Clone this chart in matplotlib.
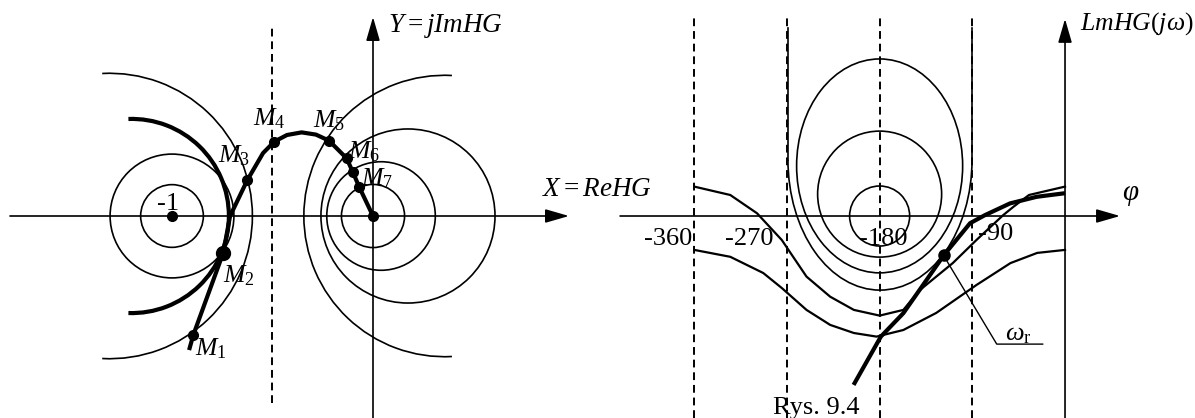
import numpy as np
import matplotlib.pyplot as plt
from matplotlib.patches import Arc, Circle, Ellipse

plt.rcParams['font.family'] = ['Liberation Serif', 'DejaVu Serif']
plt.rcParams['mathtext.fontset'] = 'custom'
plt.rcParams['mathtext.rm'] = 'Liberation Serif'
plt.rcParams['mathtext.it'] = 'Liberation Serif:italic'

# ---- Nyquist plane: frequency locus of HG(jw) ----
locus_re = [-0.915, -0.894, -0.745, -0.711, -0.625, -0.547, -0.491, -0.428,
            -0.355, -0.284, -0.219, -0.131, -0.101, -0.068, 0.0]
locus_im = [-0.667, -0.592, -0.183, 0.0, 0.179, 0.313, 0.370, 0.403,
            0.416, 0.405, 0.375, 0.287, 0.220, 0.143, 0.0]
marked = [1, 2, 4, 6, 10, 11, 12, 13, 14]   # points lying on M circles

m_names = ['$M_1$', '$M_2$', '$M_3$', '$M_4$', '$M_5$', '$M_6$', '$M_7$']
m_label_x = [-0.886, -0.746, -0.771, -0.597, -0.299, -0.124, -0.060]
m_label_y = [-0.692, -0.328, 0.269, 0.453, 0.443, 0.289, 0.154]

# M circles: (centre, radius)
circles_left = [(-1.0, 0.156), (-1.0, 0.308)]
circles_right = [(0.0, 0.157), (0.04, 0.27), (0.174, 0.433)]
arc_outer_left = (-1.31, 0.71)
arc_outer_right = (0.356, 0.70)
arc_mmax = (-1.2, 0.483)

# ---- Nichols chart ----
phase_lines = [-360, -270, -180, -90]
phase_labels = ['-360', '-270', '-180', '-90']

wave_hi_phase = [-360, -325, -299, -275, -251, -228, -205, -180, -157,
                 -141, -109, -86, -60, -50, -35, 0]
wave_hi_lm = [9.8, 7.0, 0.9, -8.0, -20.2, -26.9, -31.3, -33.2, -31.3,
              -24.7, -15.7, -8.0, 0.3, 3.1, 7.0, 9.8]
wave_lo_phase = [-360, -325, -293, -275, -251, -228, -205, -183,
                 -157, -125, -86, -53, -27, 0]
wave_lo_lm = [-11.3, -13.6, -19.0, -24.0, -31.3, -36.3, -39.0, -40.2,
              -38.0, -32.3, -23.0, -15.7, -12.3, -11.3]

ol_phase = [-205.3, -178.8, -157.0, -117.5, -92.2, -77.7, -53.4, -27.5, 0]
ol_lm = [-56.3, -40.2, -32.4, -13.0, -2.4, 0.3, 4.2, 6.4, 7.6]
resonance = (-117.5, -13.0)

# closed M contours: (centre phase, centre Lm, width, height)
contours = [(-180, 0.0, 58.3, 20.0), (-180, 7.3, 120.4, 42.0),
            (-180, 16.7, 161.2, 71.3)]
u_left, u_right, u_top, u_knee, u_bottom = -269.0, -90.3, 62.7, 18.7, -24.7

fig = plt.figure(figsize=(11.95, 4.18), dpi=100)
axl = fig.add_axes([0, 0, 600 / 1195, 1])
axr = fig.add_axes([600 / 1195, 0, 595 / 1195, 1])
for ax in (axl, axr):
    ax.set_axis_off()

axl.set_xlim(-373 / 201, 227 / 201)
axl.set_ylim(-202 / 201, 216 / 201)
axr.set_xlim(-451.5, 126.2)
axr.set_ylim(-67.33, 72.0)

thin = dict(color='black', lw=1.2)
arrow = dict(arrowstyle='-|>,head_length=1.45,head_width=0.42',
             mutation_scale=10, color='black', lw=1.2, shrinkA=0, shrinkB=0)
dashed = dict(color='black', lw=1.4, linestyle=(0, (4, 2.5)))

# left: axes
axl.annotate('', xy=(0.975, 0), xytext=(-1.806, 0), arrowprops=arrow)
axl.annotate('', xy=(0, 0.99), xytext=(0, -1.01), arrowprops=arrow)
axl.plot([-0.5, -0.5], [-0.93, 0.955], **dashed)

for c, r in circles_left + circles_right:
    axl.add_patch(Circle((c, 0), r, fill=False, **thin))
axl.add_patch(Arc((arc_outer_left[0], 0), 2 * arc_outer_left[1],
                  2 * arc_outer_left[1], theta1=-93, theta2=93, **thin))
axl.add_patch(Arc((arc_outer_right[0], 0), 2 * arc_outer_right[1],
                  2 * arc_outer_right[1], theta1=87, theta2=273, **thin))
axl.add_patch(Arc((arc_mmax[0], 0), 2 * arc_mmax[1], 2 * arc_mmax[1],
                  theta1=-92, theta2=92, color='black', lw=3.0))

axl.plot(locus_re, locus_im, color='black', lw=3.0, solid_capstyle='butt',
         solid_joinstyle='round')
for i in marked:
    size = 10 if i == 2 else 7
    axl.plot(locus_re[i], locus_im[i], 'o', color='black', ms=size)
axl.plot(-1, 0, 'o', color='black', ms=7)

for name, x, y in zip(m_names, m_label_x, m_label_y):
    axl.text(x, y, name, fontsize=18.5, va='baseline', ha='left')
axl.text(-1.075, 0.03, '-1', fontsize=19, va='baseline', ha='left')
axl.text(0.075, 0.945, '$Y = jImHG$', fontsize=19.5, va='center', ha='left')
axl.text(0.839, 0.134, '$X = ReHG$', fontsize=19.5, va='center', ha='left',
         clip_on=False)

# right: Nichols chart
axr.annotate('', xy=(53.4, 0), xytext=(-432, 0), arrowprops=arrow)
axr.annotate('', xy=(0, 65.7), xytext=(0, -67.4), arrowprops=arrow)
for p in phase_lines:
    axr.plot([p, p], [-67.4, 66.0], **dashed)

for x0, y0, w, h in contours:
    axr.add_patch(Ellipse((x0, y0), w, h, fill=False, **thin))
u_mid = (u_left + u_right) / 2
axr.add_patch(Arc((u_mid, u_knee), u_right - u_left, 2 * (u_knee - u_bottom),
                  theta1=180, theta2=360, **thin))
axr.plot([u_left, u_left], [u_knee, u_top], **thin)
axr.plot([u_right, u_right], [u_knee, u_top], **thin)

axr.plot(wave_hi_phase, wave_hi_lm, color='black', lw=1.6,
         solid_joinstyle='round')
axr.plot(wave_lo_phase, wave_lo_lm, color='black', lw=1.6,
         solid_joinstyle='round')
axr.plot(ol_phase, ol_lm, color='black', lw=3.0, solid_capstyle='butt',
         solid_joinstyle='round')
axr.plot(*resonance, 'o', color='black', ms=8)

axr.plot([-115.2, -66.3, -21.7], [-14.7, -42.7, -42.7], color='black', lw=1.0)
axr.text(-58.3, -41.3, r'$\omega_\mathrm{r}$', fontsize=19, va='baseline',
         ha='left')

axr.text(-362.1, -9.7, phase_labels[0], fontsize=19, ha='right', va='baseline')
axr.text(-283.5, -9.7, phase_labels[1], fontsize=19, ha='right', va='baseline')
axr.text(-176.7, -9.7, phase_labels[2], fontsize=19, ha='center', va='baseline')
axr.text(-84.5, -8.0, phase_labels[3], fontsize=19, ha='left', va='baseline')
axr.text(55.0, 7.0, r'$\varphi$', fontsize=21, ha='left', va='center')
axr.text(14.6, 64.3, r'$LmHG(j\omega)$', fontsize=18.5, ha='left', va='center')

fig.text(773 / 1195, 1 - 414 / 418, 'Rys. 9.4', fontsize=19, va='baseline')

fig.savefig('out.png', dpi=100)
